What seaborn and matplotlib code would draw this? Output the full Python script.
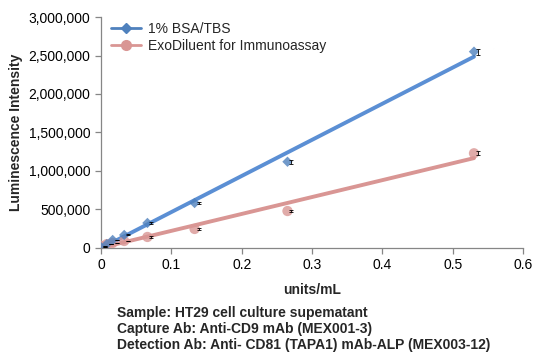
import numpy as np
import pandas as pd
import matplotlib
matplotlib.use("Agg")
import matplotlib.pyplot as plt
import matplotlib.transforms as mtransforms
from matplotlib.lines import Line2D
import seaborn as sns

# data
conc = [0, 0.0083, 0.0166, 0.033, 0.066, 0.133, 0.265, 0.53]
bsa_tbs = [10000, 50000, 104000, 169000, 325000, 584000, 1120000, 2550000]
bsa_err = [3000, 3000, 5000, 6000, 10000, 15000, 25000, 40000]
exo_dil = [26000, 50000, 65000, 91000, 143000, 247000, 480000, 1230000]
exo_err = [3000, 3000, 4000, 5000, 8000, 10000, 15000, 25000]
series_names = ["1% BSA/TBS", "ExoDiluent for Immunoassay"]
notes = ["Sample: HT29 cell culture supematant",
         "Capture Ab: Anti-CD9 mAb (MEX001-3)",
         "Detection Ab: Anti- CD81 (TAPA1) mAb-ALP (MEX003-12)"]

blue = "#4F81BD"
pink = "#D99694"

sns.set_style("white")
plt.rcParams['font.family'] = ['Liberation Sans', 'DejaVu Sans']

df = pd.DataFrame({"conc": conc, "bsa": bsa_tbs, "exo": exo_dil})

fig = plt.figure(figsize=(5.4, 3.62), dpi=100)
ax = fig.add_axes([0.187, 0.315, 0.782, 0.638])

sns.regplot(data=df, x="conc", y="exo", ax=ax, ci=None, marker="o",
            scatter_kws=dict(s=55, color=pink, edgecolor="none", zorder=3),
            line_kws=dict(color=pink, lw=2.8, zorder=2))
sns.regplot(data=df, x="conc", y="bsa", ax=ax, ci=None, marker="D",
            scatter_kws=dict(s=28, color=blue, edgecolor="none", zorder=4),
            line_kws=dict(color="#5B8FD4", lw=2.8, zorder=2))

# small error bars, drawn a few pixels to the right like in the original
off = mtransforms.offset_copy(ax.transData, fig=fig, x=4, y=0, units="dots")
ax.errorbar(conc, bsa_tbs, yerr=bsa_err, fmt="none", ecolor="black",
            elinewidth=0.6, capsize=1.2, capthick=0.6, transform=off, zorder=5)
ax.errorbar(conc, exo_dil, yerr=exo_err, fmt="none", ecolor="black",
            elinewidth=0.6, capsize=1.2, capthick=0.6, transform=off, zorder=5)

ax.set_xlim(0, 0.6)
ax.set_ylim(0, 3000000)
ax.set_xticks(np.arange(0, 0.61, 0.1))
ax.set_xticklabels(["0", "0.1", "0.2", "0.3", "0.4", "0.5", "0.6"])
ax.set_yticks(np.arange(0, 3000001, 500000))
ax.yaxis.set_major_formatter(matplotlib.ticker.FuncFormatter(lambda v, p: f"{int(v):,}"))

for s in ["top", "right"]:
    ax.spines[s].set_visible(False)
for s in ["left", "bottom"]:
    ax.spines[s].set_color("#868686")
    ax.spines[s].set_linewidth(0.9)
ax.tick_params(axis="both", direction="out", length=4, width=0.9, color="#868686",
               labelsize=10, labelcolor="black", bottom=True, left=True)

ax.set_xlabel("units/mL", fontsize=10, fontweight="bold", labelpad=8)
ax.set_ylabel("Luminescence Intensity", fontsize=10, fontweight="bold", labelpad=4)

handles = [Line2D([], [], color=blue, lw=2, marker="D", markersize=5),
           Line2D([], [], color=pink, lw=2, marker="o", markersize=7)]
ax.legend(handles, series_names, loc="upper left", bbox_to_anchor=(0.0, 1.02),
          frameon=False, fontsize=10, handlelength=2.2, handletextpad=0.5,
          labelspacing=0.2, borderaxespad=0.3)

for i, line in enumerate(notes):
    fig.text(0.217, 1 - (313 + i * 16) / 362, line, fontsize=10,
             fontweight="bold", va="center", ha="left")

fig.savefig("out.png", dpi=100)
